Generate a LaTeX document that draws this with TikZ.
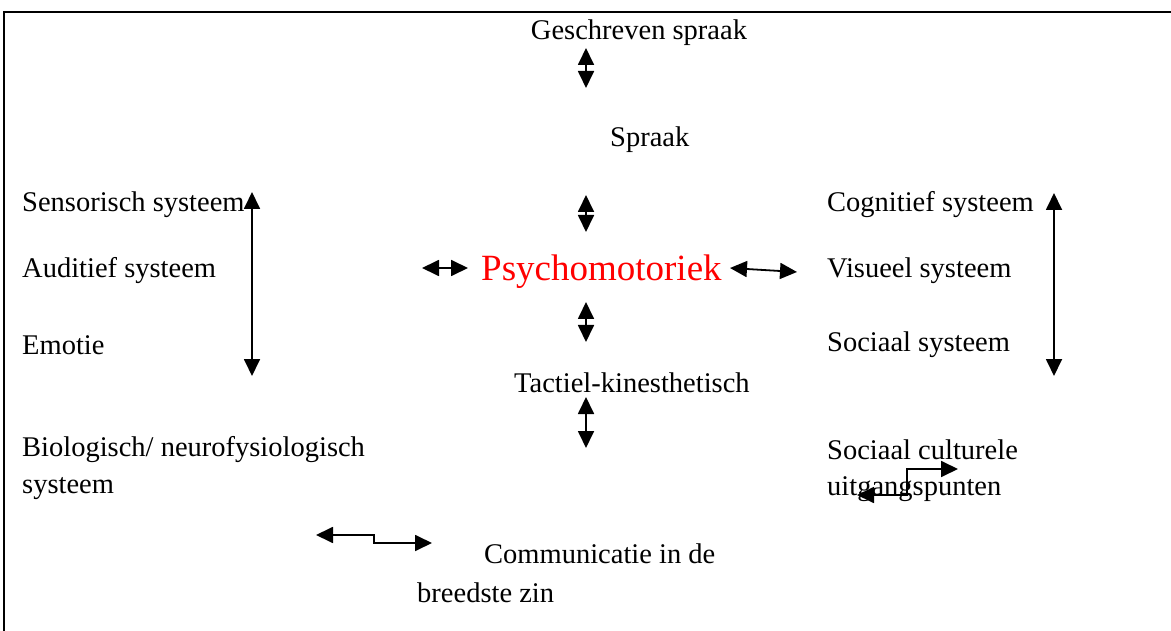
\documentclass[tikz,border=0pt]{standalone}
\usepackage{fontspec}
\setmainfont{Liberation Serif}
\usetikzlibrary{arrows.meta}

\tikzset{
    label/.style={anchor=west, inner sep=0pt, font=\fontsize{28.5}{38}\selectfont},
    link/.style={line width=1.8pt, {Triangle[width=16pt,length=17pt]}-{Triangle[width=16pt,length=17pt]}}
}

\begin{document}
\begin{tikzpicture}[x=1pt, y=-1pt]
                \useasboundingbox (0, 0) rectangle (1171, 631);
                \draw[line width=2pt] (4, 631) -- (4, 12) -- (1171, 12);

                % centre column
                \node[anchor=center, inner sep=0pt, font=\fontsize{28.5}{38}\selectfont] (geschreven) at (639, 33) {Geschreven spraak};
                \node[label] (spraak) at (610, 140) {Spraak};
                \node[label, text=red, font=\fontsize{37}{44}\selectfont] (psycho) at (481, 272) {Psychomotoriek};
                \node[label] (tactiel) at (514, 383) {Tactiel-kinesthetisch};
                \node[label] (comm) at (484, 554) {Communicatie in de};
                \node[label] (breed) at (417, 593) {breedste zin};

                % left column
                \node[label] (sensorisch) at (22, 205) {Sensorisch systeem};
                \node[label] (auditief) at (22, 271) {Auditief systeem};
                \node[label] (emotie) at (22, 345) {Emotie};
                \node[label] (bio) at (22, 450) {Biologisch/ neurofysiologisch};
                \node[label] (bio2) at (22, 489) {systeem};

                % right column
                \node[label] (cognitief) at (827, 205) {Cognitief systeem};
                \node[label] (visueel) at (827, 271) {Visueel systeem};
                \node[label] (sociaal) at (827, 345) {Sociaal systeem};
                \node[label] (cultuur) at (827, 450) {Sociaal culturele};
                \node[label] (cultuur2) at (827, 489) {uitgangspunten};

                % arrow ends
                \coordinate (a1) at (586, 48);  \coordinate (a2) at (586, 88);
                \coordinate (b1) at (586, 195); \coordinate (b2) at (586, 232);
                \coordinate (c1) at (586, 302); \coordinate (c2) at (586, 342);
                \coordinate (d1) at (586, 397); \coordinate (d2) at (586, 448);
                \coordinate (l1) at (252, 192); \coordinate (l2) at (252, 376);
                \coordinate (r1) at (1054, 193); \coordinate (r2) at (1054, 376);
                \coordinate (h1) at (422, 268); \coordinate (h2) at (468, 268);
                \coordinate (k1) at (730, 268); \coordinate (k2) at (797, 272);
                \coordinate (s1) at (316, 535); \coordinate (s2) at (432, 543);
                \coordinate (t1) at (857, 495); \coordinate (t2) at (958, 469);

                \draw[link] (a1) -- (a2);
                \draw[link] (b1) -- (b2);
                \draw[link] (c1) -- (c2);
                \draw[link] (d1) -- (d2);
                \draw[link] (l1) -- (l2);
                \draw[link] (r1) -- (r2);
                \draw[link] (h1) -- (h2);
                \draw[link] (k1) -- (k2);
                \draw[link] (s1) -- (374, 535) -- (374, 543) -- (s2);
                \draw[link] (t1) -- (907, 495) -- (907, 469) -- (t2);
\end{tikzpicture}
\end{document}
